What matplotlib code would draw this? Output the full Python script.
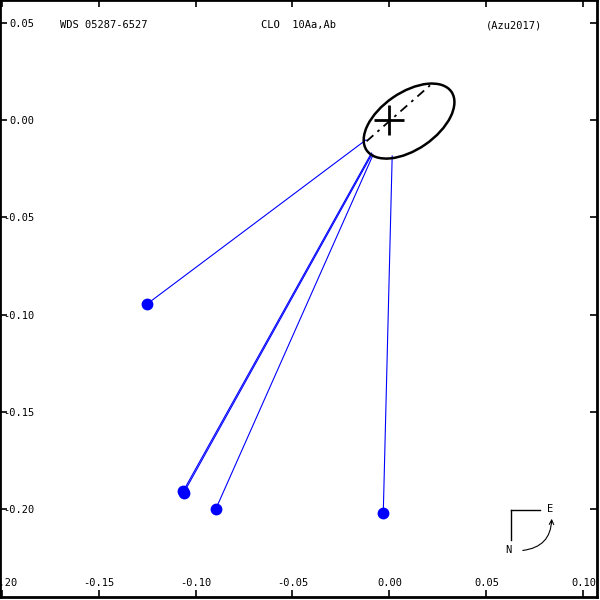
import matplotlib
matplotlib.use('Agg')
import matplotlib.pyplot as plt
from matplotlib.patches import Ellipse, FancyArrowPatch

plt.rcParams['font.family'] = ['DejaVu Sans Mono', 'DejaVu Sans']
plt.rcParams['axes.unicode_minus'] = False

# observed positions (arcsec)
obs_x = [-0.1250, -0.1063, -0.1060, -0.0896, -0.0032]
obs_y = [-0.0946, -0.1910, -0.1918, -0.2004, -0.2025]
# predicted positions on the orbit
pred_x = [-0.0121, -0.0093, -0.0090, -0.0085, 0.0014]
pred_y = [-0.0100, -0.0168, -0.0173, -0.0178, -0.0183]

# apparent orbit
orbit_center = (0.0101, -0.0003)
orbit_width = 0.0531
orbit_height = 0.0294
orbit_angle = 34.6
# line of nodes
node_x = [-0.0118, 0.0209]
node_y = [-0.0107, 0.0181]

xticks = [-0.20, -0.15, -0.10, -0.05, 0.00, 0.05, 0.10]
yticks = [0.05, 0.00, -0.05, -0.10, -0.15, -0.20]
xlim = (-0.2008, 0.1070)
ylim = (-0.2456, 0.0621)

title_left = 'WDS 05287-6527'
title_mid = 'CLO  10Aa,Ab'
title_right = '(Azu2017)'

W = 597.0  # axes size in pixels

fig = plt.figure(figsize=(6, 6), dpi=100)
ax = fig.add_axes([0, 3 / 600, W / 600, W / 600])
ax.set_xlim(*xlim)
ax.set_ylim(*ylim)

for sp in ax.spines.values():
    sp.set_linewidth(2)

ax.set_xticks(xticks)
ax.set_yticks(yticks)
ax.set_xticklabels([f'{v:.2f}' for v in xticks])
ax.set_yticklabels([f'{v:.2f}' for v in yticks])
ax.tick_params(which='both', direction='in', top=True, right=True,
               length=5, width=1.2, labelsize=7.5)
ax.tick_params(axis='x', pad=-13.5)
ax.tick_params(axis='y', pad=-24.5)

# residual lines and observations
for i in range(len(obs_x)):
    ax.plot([obs_x[i], pred_x[i]], [obs_y[i], pred_y[i]], color='#0000ff', lw=0.8)
ax.plot(obs_x, obs_y, 'o', color='#0000ff', ms=7.5, zorder=5)

# orbit
ax.add_patch(Ellipse(orbit_center, orbit_width, orbit_height, angle=orbit_angle,
                     fill=False, ec='black', lw=1.8, zorder=4))
ax.plot(node_x, node_y, color='black', lw=1.3, linestyle=(0, (5, 3, 1.5, 3)), zorder=4)
ax.plot([0], [0], marker='+', ms=22, mew=2, color='black', zorder=6)

# header texts
def fx(px):
    return px / W

def fy(py):
    return 1 - py / W

ax.text(fx(60), fy(25), title_left, transform=ax.transAxes, ha='left', va='center', fontsize=7.5)
ax.text(fx(261), fy(25), title_mid, transform=ax.transAxes, ha='left', va='center', fontsize=7.5)
ax.text(fx(486), fy(25), title_right, transform=ax.transAxes, ha='left', va='center', fontsize=7.5)

# compass
ax.plot([fx(510.7), fx(540)], [fy(510), fy(510)], transform=ax.transAxes, color='black', lw=1)
ax.plot([fx(510.7), fx(510.7)], [fy(510), fy(540)], transform=ax.transAxes, color='black', lw=1)
ax.text(fx(550), fy(509), 'E', transform=ax.transAxes, ha='center', va='center', fontsize=7.5)
ax.text(fx(508), fy(550), 'N', transform=ax.transAxes, ha='center', va='center', fontsize=7.5)
ax.add_patch(FancyArrowPatch((fx(520), fy(550.7)), (fx(551.7), fy(516)),
                             transform=ax.transAxes, connectionstyle='arc3,rad=0.47',
                             arrowstyle='->', mutation_scale=8, lw=0.8, color='black'))

fig.savefig('out.png', dpi=100)
